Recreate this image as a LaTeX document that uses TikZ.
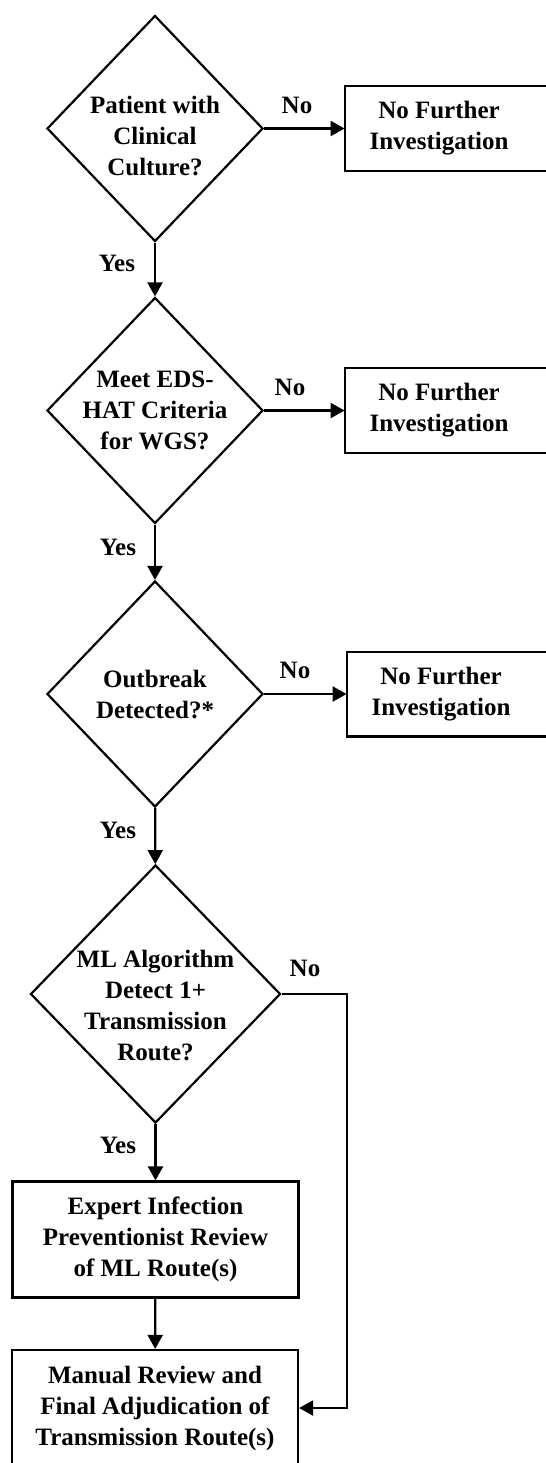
\documentclass[tikz,border=0pt]{standalone}
\usepackage{fontspec}
\setmainfont{Liberation Serif}
\usepackage{tikz}
\usetikzlibrary{positioning}
\usetikzlibrary{shapes.geometric}
\usetikzlibrary{arrows.meta}

\begin{document}
\begin{tikzpicture}[x=0.5pt,y=-0.5pt,
    every node/.style={font=\bfseries\fontsize{12.5pt}{15.5pt}\selectfont, align=center},
    decision/.style={diamond, draw, line width=1.1pt, inner sep=-12pt, minimum width=108pt, minimum height=113pt},
    process/.style={rectangle, draw, line width=1.1pt, minimum width=143pt, minimum height=58pt},
    stopbox/.style={rectangle, minimum width=94pt, minimum height=42pt},
    flow/.style={line width=1.1pt, -{Triangle[length=7pt,width=7.5pt]}},
    answer/.style={inner sep=0pt}]
    \useasboundingbox (0,0) rectangle (546,1463);
    \clip (0,0) rectangle (546,1463);

    % decisions
    \node[decision] (q1) at (155,128.5) {\rule{0pt}{16.5pt}Patient with\\Clinical\\Culture?};
    \node[decision] (q2) at (155,410.5) {Meet EDS-\\HAT Criteria\\for WGS?};
    \node[decision] (q3) at (155,694) {Outbreak\\Detected?*};
    \node[decision, minimum width=125pt, minimum height=129pt] (q4) at (155.5,994)
        {\rule{0pt}{20.5pt}ML Algorithm\\Detect 1+\\Transmission\\Route?};

    % dead ends
    \node[stopbox] (n1) at (439,128.5) {No Further\\Investigation};
    \node[stopbox] (n2) at (439,410.5) {No Further\\Investigation};
    \node[stopbox] (n3) at (441,694) {No Further\\Investigation};
    \foreach \n in {n1,n2,n3}
        \draw[line width=1.1pt] (\n.north west) rectangle ([xshift=30pt]\n.south east);

    % reviews
    \node[process] (ip) at (155.5,1239.5) {Expert Infection\\Preventionist Review\\of ML Route(s)};
    \node[process] (adj) at (155,1408) {Manual Review and\\Final Adjudication of\\Transmission Route(s)};

    \coordinate (bend) at (347,994);

    \draw[flow] (q1) -- (n1);
    \draw[flow] (q2) -- (n2);
    \draw[flow] (q3) -- (n3);
    \draw[flow] (q1) -- (q2);
    \draw[flow] (q2) -- (q3);
    \draw[flow] (q3) -- (q4);
    \draw[flow] (q4) -- (ip);
    \draw[flow] (ip) -- (adj);
    \draw[flow] (q4.east) -- (bend) |- (adj.east);

    % answers
    \node[answer] (no1) at (297,105) {No};
    \node[answer] (no2) at (290,387) {No};
    \node[answer] (no3) at (295,670) {No};
    \node[answer] (no4) at (305,968) {No};
    \node[answer] (yes1) at (117,263) {Yes};
    \node[answer] (yes2) at (118,547) {Yes};
    \node[answer] (yes3) at (118,830) {Yes};
    \node[answer] (yes4) at (118,1145) {Yes};
\end{tikzpicture}
\end{document}
